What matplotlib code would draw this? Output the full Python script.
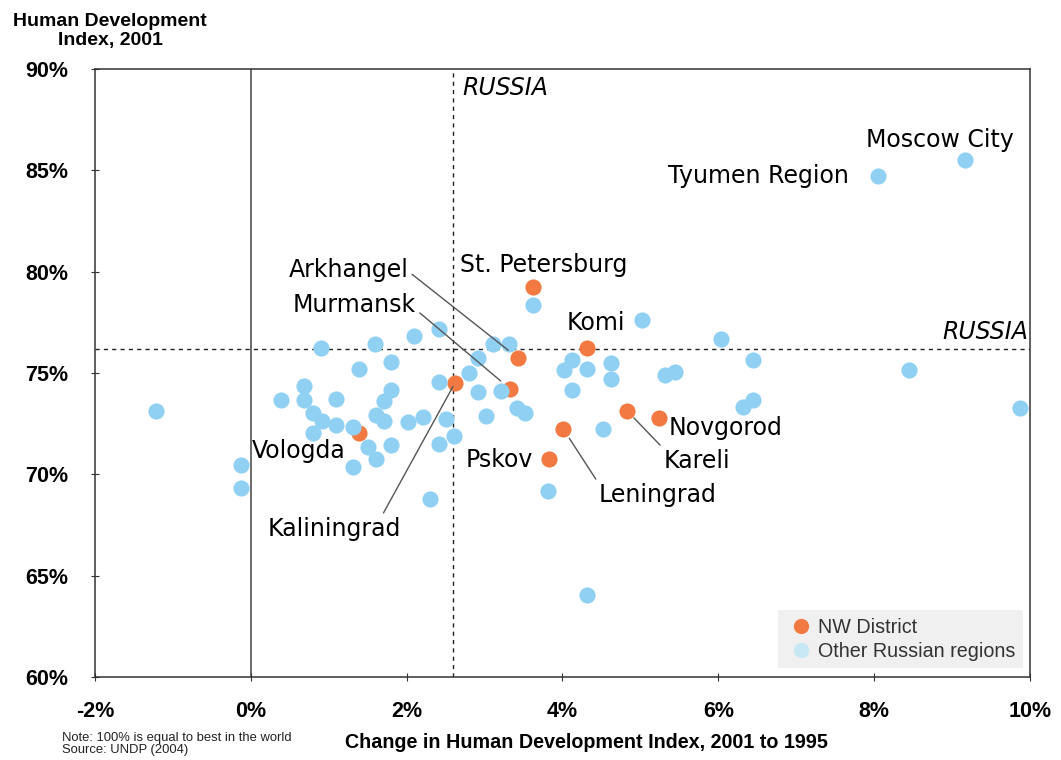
import matplotlib
matplotlib.use("Agg")
import matplotlib.pyplot as plt
from matplotlib.lines import Line2D

# NW District regions: change in HDI 1995-2001 (%) and HDI 2001 (%)
nw_names = ["St. Petersburg", "Komi", "Arkhangel", "Murmansk", "Kaliningrad",
            "Vologda", "Pskov", "Leningrad", "Kareli", "Novgorod"]
nw_change = [3.62, 4.32, 3.43, 3.33, 2.62, 1.39, 3.83, 4.01, 4.83, 5.24]
nw_hdi = [79.25, 76.24, 75.74, 74.21, 74.51, 72.04, 70.76, 72.24, 73.13, 72.78]

# other Russian regions
other_change = [-1.22, -0.13, -0.13, 0.39, 0.68, 0.68, 0.80, 0.91, 0.80, 0.90,
                1.09, 1.09, 1.31, 1.31, 1.39, 1.50, 1.61, 1.61, 1.60, 1.71,
                1.71, 1.80, 1.80, 1.80, 2.02, 2.09, 2.21, 2.30, 2.42, 2.42,
                2.42, 2.51, 2.61, 2.80, 2.92, 2.92, 3.02, 3.11, 3.21, 3.31,
                3.42, 3.52, 3.62, 3.81, 4.02, 4.12, 4.12, 4.32, 4.32, 4.52,
                4.62, 4.62, 5.02, 5.32, 5.44, 6.04, 6.32, 6.44, 6.44, 8.05,
                8.45, 9.17, 9.87]
other_hdi = [73.13, 70.46, 69.33, 73.67, 74.36, 73.67, 73.03, 72.63, 72.04, 76.24,
             73.72, 72.44, 72.34, 70.37, 75.20, 71.35, 72.93, 70.76, 76.43, 73.62,
             72.63, 74.16, 75.54, 71.45, 72.59, 76.83, 72.83, 68.79, 77.17, 74.56,
             71.50, 72.73, 71.89, 75.00, 75.74, 74.07, 72.88, 76.43, 74.11, 76.43,
             73.28, 73.03, 78.36, 69.18, 75.15, 75.64, 74.16, 75.20, 64.05, 72.24,
             75.50, 74.71, 77.62, 74.90, 75.05, 76.68, 73.33, 73.67, 75.64, 84.72,
             75.15, 85.51, 73.28]

russia_change = 2.6
russia_hdi = 76.2

xticks = [-2, 0, 2, 4, 6, 8, 10]
yticks = [60, 65, 70, 75, 80, 85, 90]

ORANGE = "#F27A42"
BLUE = "#8FD0F3"
BLUE_PALE = "#C6E7F3"

fig = plt.figure(figsize=(10.61, 7.6), dpi=100)
ax = fig.add_axes([0.0895, 0.1092, 0.8813, 0.8000])

ax.axvline(0, color="#444444", lw=1.1, zorder=1)
ax.axvline(russia_change, color="#222222", lw=1.0, ls=(0, (3, 3)), zorder=1)
ax.axhline(russia_hdi, color="#222222", lw=1.0, ls=(0, (3, 3)), zorder=1)

ax.scatter(nw_change, nw_hdi, s=135, color=ORANGE, linewidths=0, zorder=3)
ax.scatter(other_change, other_hdi, s=135, color=BLUE, linewidths=0, zorder=4)

ax.set_xlim(-2, 10)
ax.set_ylim(60, 90)
ax.set_xticks(xticks)
ax.set_yticks(yticks)
ax.set_xticklabels([f"{v}%" for v in xticks])
ax.set_yticklabels([f"{v}%" for v in yticks])
for lab in ax.get_xticklabels() + ax.get_yticklabels():
    lab.set_family("Liberation Sans")
    lab.set_weight("bold")
    lab.set_fontsize(15.5)
ax.tick_params(axis="x", direction="inout", length=6, pad=14, color="#333333")
ax.tick_params(axis="y", direction="inout", length=6, pad=16, color="#333333")
for sp in ax.spines.values():
    sp.set_color("#333333")
    sp.set_linewidth(1.1)

lab_kw = dict(fontsize=17, family="DejaVu Sans", color="black", zorder=5)
line_kw = dict(arrowstyle="-", color="#555555", lw=1.0, shrinkA=1)

ax.text(7.90, 86.50, "Moscow City", ha="left", va="center", **lab_kw)
ax.text(5.36, 84.72, "Tyumen Region", ha="left", va="center", **lab_kw)
ax.text(2.69, 80.33, "St. Petersburg", ha="left", va="center", **lab_kw)
ax.text(4.05, 77.47, "Komi", ha="left", va="center", **lab_kw)
ax.text(5.36, 72.29, "Novgorod", ha="left", va="center", **lab_kw)
ax.text(3.62, 70.71, "Pskov", ha="right", va="center", **lab_kw)
ax.text(0.015, 71.15, "Vologda", ha="left", va="center", **lab_kw)

ax.annotate("Arkhangel", xy=(nw_change[2], nw_hdi[2]), xytext=(2.02, 80.08),
            ha="right", va="center", **lab_kw,
            arrowprops=dict(relpos=(1, 0.45), shrinkB=9, **line_kw))
ax.annotate("Murmansk", xy=(nw_change[3], nw_hdi[3]), xytext=(2.12, 78.36),
            ha="right", va="center", **lab_kw,
            arrowprops=dict(relpos=(1, 0.3), shrinkB=9, **line_kw))
ax.annotate("Kaliningrad", xy=(nw_change[4], nw_hdi[4]), xytext=(0.22, 67.31),
            ha="left", va="center", **lab_kw,
            arrowprops=dict(relpos=(0.85, 1.0), shrinkB=3, **line_kw))
ax.annotate("Leningrad", xy=(nw_change[7], nw_hdi[7]), xytext=(4.46, 68.98),
            ha="left", va="center", **lab_kw,
            arrowprops=dict(relpos=(0.0, 1.0), shrinkB=8, **line_kw))
ax.annotate("Kareli", xy=(nw_change[8], nw_hdi[8]), xytext=(5.30, 70.66),
            ha="left", va="center", **lab_kw,
            arrowprops=dict(relpos=(0.0, 1.0), shrinkB=7, **line_kw))

ax.text(2.72, 89.06, "RUSSIA", ha="left", va="center", style="italic", **lab_kw)
ax.text(9.98, 77.03, "RUSSIA", ha="right", va="center", style="italic", **lab_kw)

handles = [
    Line2D([], [], ls="", marker="o", ms=11, mec="none", mfc=ORANGE, label="NW District"),
    Line2D([], [], ls="", marker="o", ms=11, mec="none", mfc=BLUE_PALE,
           label="Other Russian regions"),
]
leg = ax.legend(handles=handles, loc="lower right", bbox_to_anchor=(0.9925, 0.0148),
                borderaxespad=0, frameon=True, fancybox=False, facecolor="#F0F0F0",
                edgecolor="none", framealpha=1, handletextpad=0.05, handlelength=1.6,
                labelspacing=0.25, borderpad=0.38,
                prop={"family": "Liberation Sans", "size": 14.2})
for t in leg.get_texts():
    t.set_color("#333333")

fig.text(110 / 1061, 1 - 31 / 760, "Human Development\nIndex, 2001", ha="center",
         va="center", multialignment="center", family="Liberation Sans",
         weight="bold", fontsize=14, linespacing=1.2)
fig.text(586 / 1061, 1 - 743 / 760, "Change in Human Development Index, 2001 to 1995",
         ha="center", va="center", family="Liberation Sans", weight="bold", fontsize=14.2)
fig.text(62 / 1061, 1 - 744 / 760, "Note: 100% is equal to best in the world\nSource: UNDP (2004)",
         ha="left", va="center", family="Liberation Sans", fontsize=9.4, color="#222222",
         linespacing=1.05)

fig.savefig("out.png", dpi=100)
plt.close(fig)
